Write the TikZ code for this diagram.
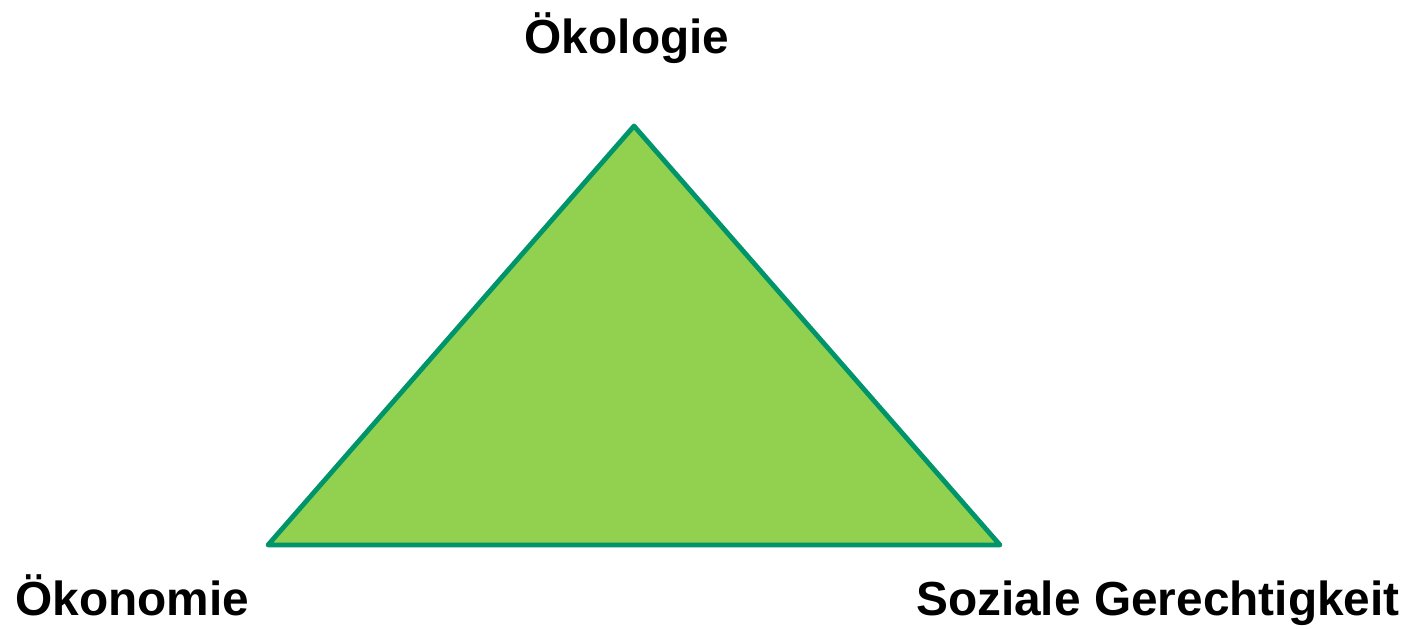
\documentclass[tikz,border=0pt]{standalone}
\usepackage{fontspec}
\setmainfont{Liberation Sans}
\usetikzlibrary{positioning}

\definecolor{dreieckgruen}{HTML}{92D050}
\definecolor{randgruen}{HTML}{00946A}

\tikzset{
    saeule/.style={font=\fontsize{23.9}{28}\selectfont\bfseries, inner sep=0pt},
}

\begin{document}
\begin{tikzpicture}[x=0.5pt,y=-0.5pt]
            \useasboundingbox (0,0) rectangle (1414,628);

            % dreieck
            \coordinate (oben) at (634,126);
            \coordinate (links) at (268,545);
            \coordinate (rechts) at (1000,545);
            \draw[fill=dreieckgruen, draw=randgruen, line width=2.4pt, line join=round]
                (oben)--(links)--(rechts)--cycle;

            % beschriftungen
            \node[saeule, anchor=base] (oekologie) at (627,53) {Ökologie};
            \node[saeule, anchor=base west] (oekonomie) at (15,615) {Ökonomie};
            \node[saeule, anchor=base east] (sozial) at (1400,615) {Soziale Gerechtigkeit};
        \end{tikzpicture}
\end{document}
